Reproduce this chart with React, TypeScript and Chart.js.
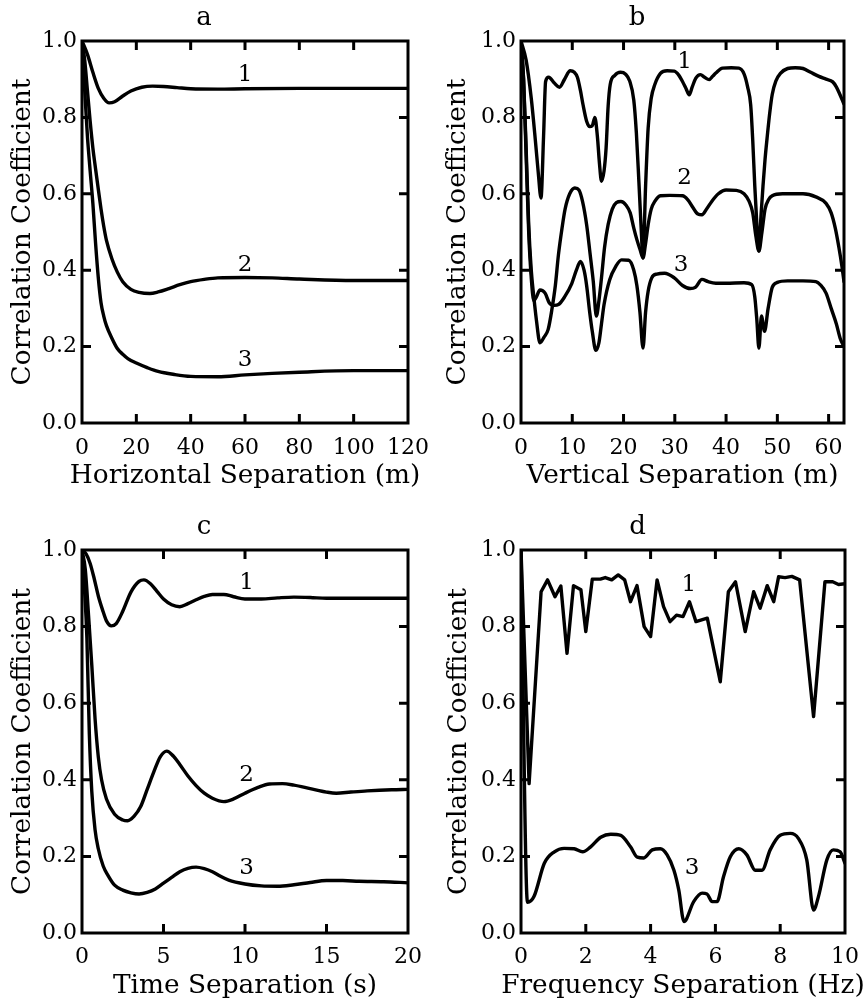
import React, { useEffect, useRef } from "react";
import { Chart, registerables } from "chart.js";

Chart.register(...registerables);

const FONT = "'DejaVu Serif', serif";

// ---------- Panel a: horizontal separation ----------
const aX1 = [0, 2, 4, 6, 8, 10, 12, 15, 18, 22, 26, 30, 35, 40, 50, 60, 80, 100, 120];
const aY1 = [1.0, 0.965, 0.918, 0.876, 0.85, 0.838, 0.841, 0.856, 0.869, 0.879, 0.882, 0.881, 0.878, 0.875, 0.874, 0.875, 0.876, 0.876, 0.876];
const aX2 = [0, 1, 2, 3, 4, 5, 6, 7, 8, 9, 11, 13, 15, 18, 21, 25, 28, 32, 36, 40, 45, 50, 60, 70, 80, 100, 120];
const aY2 = [1.0, 0.95, 0.87, 0.79, 0.72, 0.665, 0.612, 0.56, 0.515, 0.478, 0.43, 0.395, 0.37, 0.35, 0.342, 0.339, 0.343, 0.352, 0.362, 0.37, 0.376, 0.38, 0.381, 0.38, 0.377, 0.373, 0.373];
const aX3 = [0, 1, 2, 3, 4, 5, 6, 7, 8, 9, 11, 13, 15, 17, 20, 24, 28, 34, 40, 50, 60, 70, 80, 100, 120];
const aY3 = [1.0, 0.87, 0.75, 0.66, 0.575, 0.47, 0.38, 0.315, 0.28, 0.255, 0.222, 0.195, 0.18, 0.168, 0.157, 0.145, 0.135, 0.127, 0.122, 0.121, 0.126, 0.13, 0.133, 0.137, 0.137];
const aLabelX = [60, 60, 60];
const aLabelY = [0.911, 0.414, 0.165];
const aLabelText = ["1", "2", "3"];

// ---------- Panel b: vertical separation ----------
const bX1 = [0, 1, 2, 2.8, 3.4, 3.9, 4.4, 4.8, 5.4, 6.5, 7.5, 8.5, 9.6, 10.4, 11, 11.6, 12.1, 12.8, 13.4, 13.9, 14.4, 14.9, 15.3, 15.7, 16.2, 16.6, 17, 17.4, 18.3, 19.4, 20.4, 21.2, 22, 22.5, 23, 23.4, 23.8, 24.3, 24.8, 25.4, 26.1, 27.2, 28.5, 29.9, 30.8, 31.5, 32.2, 32.8, 33.4, 34.1, 35, 35.8, 36.7, 37.4, 38, 39.3, 41, 42.5, 43.5, 44.2, 44.8, 45.2, 45.6, 46, 46.4, 46.8, 47.2, 47.6, 48, 48.5, 49, 49.7, 50.6, 52, 53.5, 55, 56.5, 58, 59.5, 60.8, 61.5, 62.2, 63];
const bY1 = [1, 0.95, 0.85, 0.74, 0.65, 0.589, 0.75, 0.894, 0.905, 0.89, 0.879, 0.9, 0.922, 0.918, 0.905, 0.87, 0.833, 0.79, 0.776, 0.778, 0.8, 0.75, 0.68, 0.633, 0.66, 0.72, 0.83, 0.886, 0.91, 0.918, 0.913, 0.895, 0.845, 0.76, 0.63, 0.52, 0.432, 0.62, 0.772, 0.85, 0.886, 0.915, 0.922, 0.921, 0.91, 0.894, 0.875, 0.859, 0.88, 0.903, 0.912, 0.905, 0.899, 0.908, 0.916, 0.929, 0.93, 0.929, 0.914, 0.88, 0.833, 0.74, 0.62, 0.52, 0.45, 0.54, 0.62, 0.69, 0.746, 0.81, 0.86, 0.895, 0.915, 0.928, 0.93, 0.928, 0.918, 0.908, 0.9, 0.893, 0.88, 0.86, 0.835];
const bX2 = [0, 0.5, 1, 1.5, 2, 2.5, 3, 3.7, 4.5, 5.3, 6, 6.7, 7.3, 8, 8.6, 9.5, 10.5, 11.3, 12, 12.8, 13.5, 14.1, 14.7, 15.2, 15.7, 16.3, 17, 17.8, 18.6, 19.5, 20.5, 21.3, 22, 22.6, 23.2, 23.8, 24.3, 24.8, 25.4, 26.1, 27.2, 29, 31.5, 32.5, 33.5, 34.5, 35.3, 36.2, 37.2, 38.5, 40, 42, 43.5, 44.5, 45.2, 45.8, 46.4, 47, 47.6, 48.3, 49, 51, 55, 57.5, 59.5, 60.5, 61.3, 62, 62.6, 63];
const bY2 = [1, 0.9, 0.72, 0.52, 0.4, 0.33, 0.27, 0.21, 0.225, 0.245, 0.295, 0.36, 0.44, 0.51, 0.56, 0.6, 0.615, 0.61, 0.58, 0.519, 0.44, 0.37, 0.28, 0.32, 0.38, 0.46, 0.52, 0.56, 0.577, 0.58, 0.57, 0.55, 0.51, 0.48, 0.455, 0.432, 0.47, 0.519, 0.56, 0.58, 0.595, 0.596, 0.595, 0.585, 0.565, 0.547, 0.545, 0.56, 0.58, 0.6, 0.61, 0.609, 0.6, 0.58, 0.55, 0.49, 0.45, 0.5, 0.56, 0.585, 0.595, 0.6, 0.6, 0.592, 0.575, 0.55, 0.51, 0.46, 0.41, 0.37];
const bX3 = [0, 0.5, 1, 1.5, 2, 2.5, 3, 3.7, 4.7, 5.5, 6.5, 7.3, 8.5, 9.9, 10.8, 11.6, 12.3, 12.8, 13.4, 13.9, 14.6, 15.2, 15.7, 16.2, 17.3, 18.5, 19.6, 21, 22, 22.6, 23.2, 23.8, 24.3, 24.8, 25.5, 26.5, 28, 29.9, 31.5, 33, 34, 35.3, 36.5, 38, 40, 43.5, 45, 45.6, 46, 46.4, 46.9, 47.5, 48.2, 49, 50, 52, 55, 57.5, 58.5, 59.5, 60.5, 61.5, 62.3, 63];
const bY3 = [1, 0.9, 0.7, 0.5, 0.38, 0.32, 0.33, 0.348, 0.34, 0.315, 0.308, 0.31, 0.33, 0.365, 0.4, 0.423, 0.4, 0.36, 0.29, 0.24, 0.19, 0.21, 0.26, 0.31, 0.375, 0.41, 0.427, 0.426, 0.4, 0.36, 0.29, 0.196, 0.29, 0.345, 0.38, 0.39, 0.392, 0.38, 0.36, 0.352, 0.355, 0.376, 0.37, 0.366, 0.366, 0.367, 0.362, 0.33, 0.27, 0.196, 0.28, 0.24, 0.3, 0.355, 0.368, 0.372, 0.372, 0.37, 0.36, 0.34, 0.3, 0.26, 0.22, 0.2];
const bLabelX = [31.9, 31.9, 31.2];
const bLabelY = [0.945, 0.641, 0.414];
const bLabelText = ["1", "2", "3"];

// ---------- Panel c: time separation ----------
const cX1 = [0, 0.25, 0.5, 0.75, 1, 1.25, 1.5, 1.8, 2.1, 2.5, 3, 3.5, 3.8, 4.2, 4.6, 5, 5.5, 6, 6.5, 7, 7.5, 8, 8.7, 9.3, 10, 11, 12, 13, 14, 15, 16, 18, 20];
const cY1 = [1, 0.99, 0.965, 0.925, 0.88, 0.845, 0.815, 0.802, 0.808, 0.84, 0.89, 0.918, 0.922, 0.912, 0.892, 0.872, 0.857, 0.852, 0.86, 0.87, 0.879, 0.884, 0.884, 0.878, 0.872, 0.872, 0.875, 0.877, 0.876, 0.874, 0.874, 0.874, 0.874];
const cX2 = [0, 0.2, 0.4, 0.6, 0.8, 1, 1.2, 1.5, 2, 2.5, 2.8, 3.2, 3.6, 4, 4.4, 4.8, 5.2, 5.6, 6, 6.5, 7, 7.5, 8, 8.7, 9.3, 10, 10.8, 11.5, 12.3, 13, 14, 15, 15.6, 16.5, 17.5, 19, 20];
const cY2 = [1, 0.95, 0.83, 0.7, 0.56, 0.46, 0.4, 0.35, 0.31, 0.295, 0.293, 0.305, 0.33, 0.375, 0.42, 0.46, 0.475, 0.462, 0.44, 0.41, 0.385, 0.365, 0.352, 0.343, 0.35, 0.365, 0.38, 0.389, 0.39, 0.386, 0.377, 0.368, 0.365, 0.368, 0.371, 0.374, 0.375];
const cX3 = [0, 0.15, 0.3, 0.45, 0.6, 0.8, 1, 1.3, 1.6, 2, 2.5, 3, 3.5, 4, 4.5, 5, 5.5, 6, 6.5, 7, 7.5, 8, 8.5, 9, 10, 11, 12, 13, 14, 15, 16, 17, 18.5, 20];
const cY3 = [1, 0.9, 0.77, 0.52, 0.37, 0.27, 0.22, 0.175, 0.15, 0.125, 0.112, 0.105, 0.102, 0.106, 0.115, 0.13, 0.145, 0.16, 0.169, 0.172, 0.168, 0.16, 0.148, 0.138, 0.128, 0.123, 0.122, 0.126, 0.132, 0.137, 0.137, 0.135, 0.134, 0.131];
const cLabelX = [10.1, 10.1, 10.1];
const cLabelY = [0.913, 0.413, 0.169];
const cLabelText = ["1", "2", "3"];

// ---------- Panel d: frequency separation ----------
const dX1 = [0, 0.25, 0.62, 0.82, 1.05, 1.23, 1.42, 1.62, 1.85, 2, 2.2, 2.45, 2.6, 2.8, 3, 3.2, 3.38, 3.58, 3.8, 4, 4.2, 4.4, 4.6, 4.8, 5, 5.2, 5.4, 5.75, 6.15, 6.4, 6.62, 6.92, 7.18, 7.38, 7.6, 7.8, 7.95, 8.15, 8.36, 8.6, 9.03, 9.38, 9.62, 9.8, 10];
const dY1 = [1, 0.39, 0.891, 0.922, 0.878, 0.906, 0.73, 0.907, 0.896, 0.787, 0.924, 0.924, 0.928, 0.922, 0.935, 0.922, 0.865, 0.907, 0.8, 0.774, 0.922, 0.852, 0.813, 0.83, 0.826, 0.865, 0.813, 0.822, 0.656, 0.891, 0.917, 0.787, 0.891, 0.848, 0.907, 0.865, 0.93, 0.928, 0.931, 0.922, 0.565, 0.917, 0.917, 0.91, 0.912];
const dX3 = [0, 0.2, 0.4, 0.72, 1.03, 1.33, 1.64, 1.9, 2.15, 2.46, 2.77, 3.08, 3.38, 3.59, 3.79, 4.05, 4.3, 4.51, 4.72, 4.87, 5.03, 5.33, 5.59, 5.74, 5.9, 6.05, 6.25, 6.46, 6.72, 6.97, 7.23, 7.44, 7.69, 8, 8.31, 8.56, 8.82, 9.03, 9.18, 9.44, 9.64, 9.85, 10];
const dY3 = [1, 0.08, 0.095, 0.182, 0.212, 0.221, 0.22, 0.212, 0.225, 0.25, 0.258, 0.255, 0.225, 0.198, 0.196, 0.217, 0.22, 0.204, 0.164, 0.112, 0.03, 0.082, 0.104, 0.102, 0.082, 0.082, 0.147, 0.199, 0.22, 0.204, 0.164, 0.164, 0.217, 0.255, 0.26, 0.247, 0.191, 0.06, 0.095, 0.191, 0.217, 0.212, 0.182];
const dLabelX = [5.18, 5.28];
const dLabelY = [0.909, 0.169];
const dLabelText = ["1", "3"];

const yTitle = "Correlation Coefficient";

type Series = { xs: number[]; ys: number[]; smooth: boolean };
type PanelDef = {
  letter: string;
  xTitle: string;
  xMax: number;
  xStep: number;
  series: Series[];
  lx: number[];
  ly: number[];
  lt: string[];
  box: { left: number; top: number; w: number; h: number };
  area: { l: number; r: number; t: number; b: number };
  yTitleCenter: number;
  xTitleFromBottom: number;
  xTickPad: number;
};

const TICK_SIZE = 22;
const AXIS_TITLE_SIZE = 26.4;
const LETTER_SIZE = 26;
const CURVE_LABEL_SIZE = 23;

const panels: PanelDef[] = [
  {
    letter: "a", xTitle: "Horizontal Separation (m)", xMax: 120, xStep: 20,
    series: [
      { xs: aX1, ys: aY1, smooth: true },
      { xs: aX2, ys: aY2, smooth: true },
      { xs: aX3, ys: aY3, smooth: true },
    ],
    lx: aLabelX, ly: aLabelY, lt: aLabelText,
    box: { left: 0, top: 0, w: 430, h: 500 },
    area: { l: 82, r: 408, t: 41, b: 423 },
    yTitleCenter: 23, xTitleFromBottom: 23.5, xTickPad: 12.5,
  },
  {
    letter: "b", xTitle: "Vertical Separation (m)", xMax: 63, xStep: 10,
    series: [
      { xs: bX1, ys: bY1, smooth: true },
      { xs: bX2, ys: bY2, smooth: true },
      { xs: bX3, ys: bY3, smooth: true },
    ],
    lx: bLabelX, ly: bLabelY, lt: bLabelText,
    box: { left: 430, top: 0, w: 437, h: 500 },
    area: { l: 91, r: 414, t: 41, b: 423 },
    yTitleCenter: 28.5, xTitleFromBottom: 23.5, xTickPad: 12.5,
  },
  {
    letter: "c", xTitle: "Time Separation (s)", xMax: 20, xStep: 5,
    series: [
      { xs: cX1, ys: cY1, smooth: true },
      { xs: cX2, ys: cY2, smooth: true },
      { xs: cX3, ys: cY3, smooth: true },
    ],
    lx: cLabelX, ly: cLabelY, lt: cLabelText,
    box: { left: 0, top: 500, w: 430, h: 506 },
    area: { l: 82, r: 408, t: 50, b: 433 },
    yTitleCenter: 23, xTitleFromBottom: 20, xTickPad: 11,
  },
  {
    letter: "d", xTitle: "Frequency Separation (Hz)", xMax: 10, xStep: 2,
    series: [
      { xs: dX1, ys: dY1, smooth: false },
      { xs: dX3, ys: dY3, smooth: true },
    ],
    lx: dLabelX, ly: dLabelY, lt: dLabelText,
    box: { left: 430, top: 500, w: 437, h: 506 },
    area: { l: 91, r: 415, t: 50, b: 433 },
    yTitleCenter: 29, xTitleFromBottom: 20, xTickPad: 11,
  },
];

function makeFramePlugin(def: PanelDef) {
  return {
    id: "frameTicks" + def.letter,
    afterDatasetsDraw(chart: any) {
      const { ctx, chartArea } = chart;
      const { left, right, top, bottom } = chartArea;
      const xs = chart.scales.x;
      const ys = chart.scales.y;
      ctx.save();
      ctx.strokeStyle = "#000";
      ctx.lineWidth = 3;
      ctx.strokeRect(left, top, right - left, bottom - top);
      const L = 9;
      ctx.beginPath();
      xs.ticks.forEach((t: any) => {
        const px = xs.getPixelForValue(t.value);
        if (px <= left + 3 || px >= right - 3) return;
        ctx.moveTo(px, bottom);
        ctx.lineTo(px, bottom - L);
        ctx.moveTo(px, top);
        ctx.lineTo(px, top + L);
      });
      ys.ticks.forEach((t: any) => {
        const py = ys.getPixelForValue(t.value);
        if (py <= top + 3 || py >= bottom - 3) return;
        ctx.moveTo(left, py);
        ctx.lineTo(left + L, py);
        ctx.moveTo(right, py);
        ctx.lineTo(right - L, py);
      });
      ctx.stroke();
      ctx.fillStyle = "#000";
      ctx.textAlign = "center";
      ctx.textBaseline = "middle";
      // curve labels
      ctx.font = `${CURVE_LABEL_SIZE}px ${FONT}`;
      def.lt.forEach((txt, i) => {
        ctx.fillText(txt, xs.getPixelForValue(def.lx[i]), ys.getPixelForValue(def.ly[i]));
      });
      // x-axis title (drawn without width compression)
      ctx.font = `${AXIS_TITLE_SIZE}px ${FONT}`;
      ctx.fillText(def.xTitle, (left + right) / 2, chart.height - def.xTitleFromBottom);
      ctx.restore();
    },
  };
}

function Panel({ def }: { def: PanelDef }) {
  const ref = useRef<HTMLCanvasElement | null>(null);
  useEffect(() => {
    if (!ref.current) return;
    const { box, area } = def;
    const titleLH = LETTER_SIZE * 1.2;
    const tTop = area.t - 23 - titleLH / 2;
    const tBottom = area.t - tTop - titleLH;
    const axLH = AXIS_TITLE_SIZE * 1.2;
    const chart = new Chart(ref.current, {
      type: "line",
      data: {
        datasets: def.series.map((s) => ({
          data: s.xs.map((x, i) => ({ x, y: s.ys[i] })),
          borderColor: "#000",
          backgroundColor: "#000",
          borderWidth: 3.4,
          pointRadius: 0,
          fill: false,
          tension: 0,
          cubicInterpolationMode: s.smooth ? "monotone" : "default",
          borderJoinStyle: "round",
          borderCapStyle: "round",
        })),
      },
      options: {
        animation: false,
        responsive: false,
        devicePixelRatio: 1,
        layout: { padding: { left: 0, top: 0, bottom: 0, right: box.w - area.r } },
        plugins: {
          legend: { display: false },
          tooltip: { enabled: false },
          title: {
            display: true,
            text: def.letter,
            color: "#000",
            font: { family: FONT, size: LETTER_SIZE, weight: "normal" },
            padding: { top: tTop, bottom: tBottom },
          },
        },
        scales: {
          x: {
            type: "linear",
            min: 0,
            max: def.xMax,
            grid: { display: false, drawTicks: false },
            border: { display: false },
            ticks: {
              stepSize: def.xStep,
              includeBounds: false,
              autoSkip: false,
              maxRotation: 0,
              padding: def.xTickPad,
              color: "#000",
              font: { family: FONT, size: TICK_SIZE },
              callback: (v: any) => String(Math.round(Number(v))),
            },
            title: { display: false },
            afterFit: (s: any) => {
              s.height = box.h - area.b;
              s.paddingLeft = 0;
              s.paddingRight = 0;
            },
          },
          y: {
            type: "linear",
            min: 0,
            max: 1,
            grid: { display: false, drawTicks: false },
            border: { display: false },
            ticks: {
              stepSize: 0.2,
              padding: 5,
              color: "#000",
              font: { family: FONT, size: TICK_SIZE },
              callback: (v: any) => Number(v).toFixed(1),
            },
            title: {
              display: true,
              text: yTitle,
              color: "#000",
              font: { family: FONT, size: AXIS_TITLE_SIZE },
              padding: { top: def.yTitleCenter - axLH / 2, bottom: 0 },
            },
            afterFit: (s: any) => {
              s.width = area.l;
              s.paddingTop = 0;
              s.paddingBottom = 0;
            },
          },
        },
      } as any,
      plugins: [makeFramePlugin(def)],
    });
    return () => chart.destroy();
  }, [def]);
  return (
    <canvas
      ref={ref}
      width={def.box.w}
      height={def.box.h}
      style={{ position: "absolute", left: def.box.left, top: def.box.top, width: def.box.w, height: def.box.h }}
    />
  );
}

export default function App() {
  return (
    <div style={{ position: "absolute", left: 0, top: 0, width: 867, height: 1006, background: "#fff" }}>
      {panels.map((p) => (
        <Panel key={p.letter} def={p} />
      ))}
    </div>
  );
}
